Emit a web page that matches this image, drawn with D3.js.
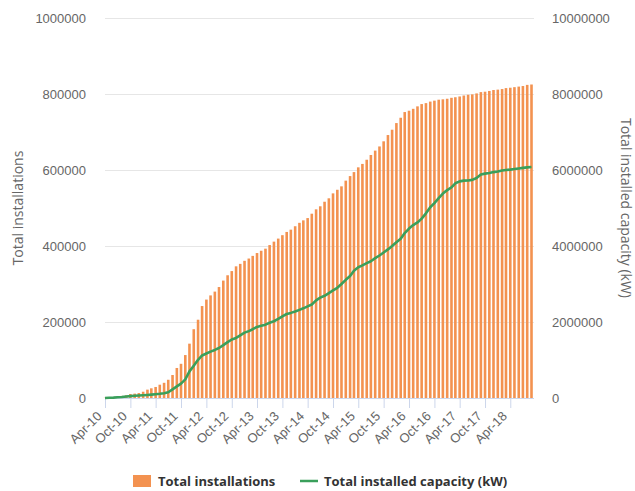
<!DOCTYPE html>
<html lang="en">
<head>
  <meta charset="UTF-8">
  <title>Total installations and installed capacity</title>
  <script src="https://cdn.jsdelivr.net/npm/d3@7"></script>
  <style>
    html, body { margin: 0; padding: 0; background: #fff; }
    svg { display: block; font-family: "Open Sans", sans-serif; }
    .tick text { fill: #666; font-size: 13px; }
    .axis-title { fill: #666; font-size: 14px; }
    .legend-text { fill: #333; font-size: 13px; font-weight: bold; }
  </style>
</head>
<body>
  <script>
    // ------------- Data (monthly, Apr-10 .. Sep-18) -------------
    const months = d3.timeMonth.range(new Date(2010, 3, 1), new Date(2018, 9, 1));

    const totalInstallations = [
      500, 1500, 2500, 4000, 5500, 7000, 10500, 11500, 13000, 16500,
      22000, 25500, 29000, 35000, 40000, 48000, 60500, 79000, 90000, 113000,
      143000, 181000, 206000, 242000, 259000, 270000, 280000, 292000, 309000, 323000,
      334000, 346500, 353000, 361000, 367000, 374000, 381500, 387500, 393000, 402500,
      411500, 419500, 428500, 437000, 443000, 452000, 461000, 467500, 473500, 485000,
      496500, 504500, 516500, 525500, 538500, 548000, 557000, 572000, 584000, 594500,
      607000, 616000, 627000, 639500, 651000, 662000, 675500, 692000, 706000, 723500,
      737500, 752500, 756000, 761000, 767500, 773500, 776000, 780000, 782500, 785000,
      786000, 787500, 790000, 791500, 793500, 796000, 798000, 799000, 801500, 805000,
      806000, 808000, 810500, 811500, 813000, 815500, 816500, 818000, 819500, 821000,
      824000, 825000
    ];

    const totalCapacity = [
      0, 5000, 10000, 18000, 26000, 40000, 50000, 58000, 64000, 72000,
      80000, 88000, 98000, 110000, 125000, 150000, 228000, 307000, 380000, 490000,
      700000, 850000, 1005000, 1120000, 1170000, 1220000, 1265000, 1315000, 1390000, 1470000,
      1540000, 1580000, 1650000, 1720000, 1760000, 1810000, 1870000, 1900000, 1930000, 1980000,
      2020000, 2080000, 2150000, 2210000, 2240000, 2275000, 2320000, 2360000, 2410000, 2460000,
      2570000, 2640000, 2690000, 2760000, 2830000, 2900000, 3000000, 3110000, 3210000, 3350000,
      3440000, 3490000, 3550000, 3600000, 3680000, 3750000, 3830000, 3910000, 4000000, 4100000,
      4190000, 4340000, 4460000, 4550000, 4620000, 4720000, 4860000, 5020000, 5130000, 5260000,
      5380000, 5470000, 5540000, 5650000, 5700000, 5720000, 5725000, 5740000, 5790000, 5880000,
      5905000, 5920000, 5945000, 5960000, 5985000, 6000000, 6010000, 6025000, 6040000, 6055000,
      6070000, 6080000
    ];

    const xTickLabels = [
      "Apr-10", "Oct-10", "Apr-11", "Oct-11", "Apr-12", "Oct-12", "Apr-13", "Oct-13",
      "Apr-14", "Oct-14", "Apr-15", "Oct-15", "Apr-16", "Oct-16", "Apr-17", "Oct-17", "Apr-18"
    ];
    const leftTicks = [0, 200000, 400000, 600000, 800000, 1000000];
    const rightTicks = [0, 2000000, 4000000, 6000000, 8000000, 10000000];

    const seriesNames = ["Total installations", "Total installed capacity (kW)"];
    const barColor = "#f39250";
    const lineColor = "#3a9f5b";

    // ------------- Layout -------------
    const W = 635, H = 491;
    const margin = { top: 18, right: 101, bottom: 93, left: 105 };
    const innerW = W - margin.left - margin.right;
    const innerH = H - margin.top - margin.bottom;

    const svg = d3.select("body").append("svg")
      .attr("width", W)
      .attr("height", H);

    const g = svg.append("g")
      .attr("transform", `translate(${margin.left},${margin.top})`);

    // ------------- Scales -------------
    const parseTick = d3.timeParse("%b-%y");
    const x = d3.scaleTime()
      .domain([months[0], d3.timeDay.offset(months[months.length - 1], 18)])
      .range([0, innerW]);
    const yLeft = d3.scaleLinear().domain([0, 1000000]).range([innerH, 0]);
    const yRight = d3.scaleLinear().domain([0, 10000000]).range([innerH, 0]);

    // ------------- Grid -------------
    g.append("g")
      .selectAll("line")
      .data(leftTicks.slice(1))
      .join("line")
      .attr("x1", 0).attr("x2", innerW)
      .attr("y1", d => Math.round(yLeft(d)) + 0.5)
      .attr("y2", d => Math.round(yLeft(d)) + 0.5)
      .attr("stroke", "#e6e6e6");

    // ------------- Left axis -------------
    const leftAxis = g.append("g")
      .call(d3.axisLeft(yLeft).tickValues(leftTicks).tickFormat(d3.format("d")).tickSize(0).tickPadding(19));
    leftAxis.select(".domain").remove();
    leftAxis.selectAll("text").attr("dy", "0.36em");

    // ------------- Right axis -------------
    const rightAxis = g.append("g")
      .attr("transform", `translate(${innerW},0)`)
      .call(d3.axisRight(yRight).tickValues(rightTicks).tickFormat(d3.format("d")).tickSize(0).tickPadding(18));
    rightAxis.select(".domain").remove();
    rightAxis.selectAll("text").attr("dy", "0.36em");

    // ------------- Bars -------------
    const barW = 2.6;
    g.append("g")
      .selectAll("rect")
      .data(totalInstallations)
      .join("rect")
      .attr("x", (d, i) => x(months[i]) - barW / 2)
      .attr("y", d => yLeft(d))
      .attr("width", barW)
      .attr("height", d => innerH - yLeft(d))
      .attr("fill", barColor);

    // ------------- Bottom axis -------------
    const bottomAxis = g.append("g")
      .attr("transform", `translate(0,${innerH})`)
      .call(d3.axisBottom(x)
        .tickValues(xTickLabels.map(parseTick))
        .tickFormat(d3.timeFormat("%b-%y"))
        .tickSizeOuter(0)
        .tickSize(10));
    bottomAxis.select(".domain").attr("stroke", "#ccd6eb").attr("d", `M0,0.5H${innerW}`);
    bottomAxis.selectAll(".tick line").attr("stroke", "#ccd6eb");
    bottomAxis.selectAll(".tick text")
      .attr("text-anchor", "end")
      .attr("y", 0)
      .attr("dy", 0)
      .attr("transform", "translate(-3,19) rotate(-45)");

    // ------------- Line -------------
    const line = d3.line()
      .x((d, i) => x(months[i]))
      .y(d => yRight(d));
    g.append("path")
      .datum(totalCapacity)
      .attr("fill", "none")
      .attr("stroke", lineColor)
      .attr("stroke-width", 2.6)
      .attr("stroke-linejoin", "round")
      .attr("d", line);

    // ------------- Axis titles -------------
    svg.append("text")
      .attr("class", "axis-title")
      .attr("text-anchor", "middle")
      .attr("transform", `translate(23,${margin.top + innerH / 2}) rotate(-90)`)
      .text("Total installations");
    svg.append("text")
      .attr("class", "axis-title")
      .attr("text-anchor", "middle")
      .attr("transform", `translate(621,${margin.top + innerH / 2}) rotate(90)`)
      .text("Total installed capacity (kW)");

    // ------------- Legend -------------
    const legend = svg.append("g").attr("transform", "translate(133,481)");
    legend.append("rect")
      .attr("x", 0).attr("y", -6)
      .attr("width", 18).attr("height", 12)
      .attr("fill", barColor);
    legend.append("text")
      .attr("class", "legend-text")
      .attr("x", 25).attr("y", 5)
      .text(seriesNames[0]);
    legend.append("line")
      .attr("x1", 167).attr("x2", 185)
      .attr("y1", 0).attr("y2", 0)
      .attr("stroke", lineColor)
      .attr("stroke-width", 2.5);
    legend.append("text")
      .attr("class", "legend-text")
      .attr("x", 191).attr("y", 5)
      .text(seriesNames[1]);
  </script>
</body>
</html>
